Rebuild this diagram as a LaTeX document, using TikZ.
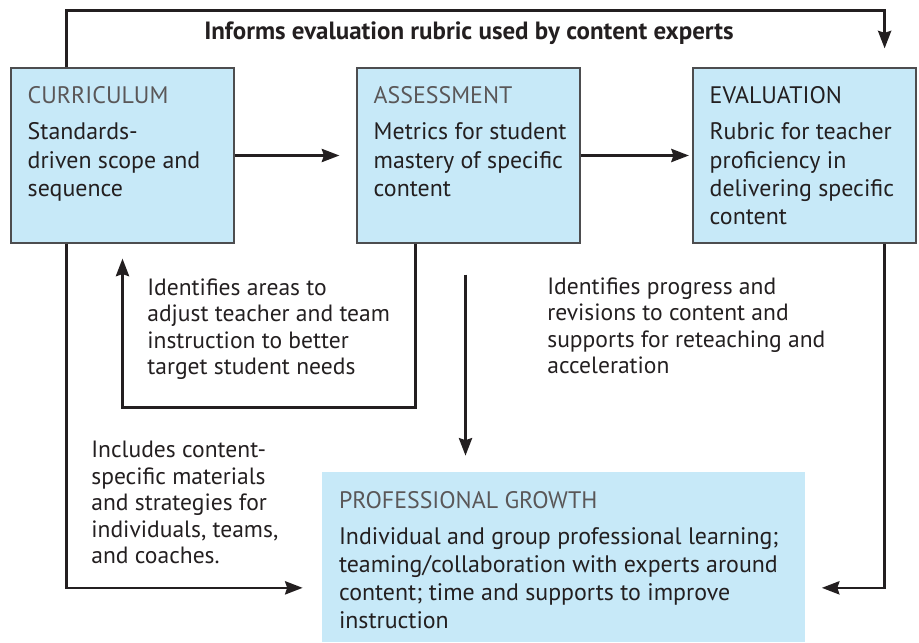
\documentclass[tikz,border=0pt]{standalone}
\usepackage{fontspec}
\setmainfont{PT Sans}
\usepackage{xcolor}
\usetikzlibrary{arrows.meta, positioning, calc}

\definecolor{boxblue}{HTML}{C7E9F8}
\definecolor{ink}{HTML}{231F20}
\definecolor{edge}{HTML}{4D4D4F}

\newcommand{\boxhead}[1]{{\color{ink!75}#1}}

\begin{document}
\begin{tikzpicture}[x=1cm, y=1cm,
  flow/.style={-{Stealth[length=10pt, width=7.5pt, inset=1.2pt]}, line width=1.5pt, draw=ink},
  txt/.style={anchor=north west, inner sep=0pt, align=left, text=ink, font=\fontsize{13.6}{16.1}\selectfont},
  lbl/.style={anchor=north west, inner sep=0pt, align=left, text=ink, font=\fontsize{13.4}{15.1}\selectfont}]

\useasboundingbox (0,0) rectangle (18.38,12.84);

% Uniform box size
\def\boxwidth{4.46cm}
\def\boxheight{3.5cm}

\node[draw=edge, line width=0.7pt, fill=boxblue, minimum width=\boxwidth, minimum height=\boxheight]
(cur) at (2.45,9.73) {};
\node[draw=edge, line width=0.7pt, fill=boxblue, minimum width=\boxwidth, minimum height=\boxheight]
(ass) at (9.37,9.73) {};
\node[draw=edge, line width=0.7pt, fill=boxblue, minimum width=\boxwidth, minimum height=\boxheight]
(eva) at (16.09,9.73) {};
\node[fill=boxblue, minimum width=9.66cm, minimum height=3.4cm]
(gro) at (11.27,1.70) {};

% Box texts
\node[txt] (curtxt) at ($(cur.north west)+(0.34,-0.38)$)
  {\boxhead{CURRICULUM}\\[4.4pt] Standards-\\driven scope and\\sequence};
\node[txt] (asstxt) at ($(ass.north west)+(0.34,-0.38)$)
  {\boxhead{ASSESSMENT}\\[4.4pt] Metrics for student\\mastery of specific\\content};
\node[txt] (evatxt) at ($(eva.north west)+(0.34,-0.38)$)
  {EVALUATION\\[4.4pt] Rubric for teacher\\proficiency in\\delivering specific\\content};
\node[txt] (grotxt) at ($(gro.north west)+(0.34,-0.38)$)
  {\boxhead{PROFESSIONAL GROWTH}\\[4.4pt] Individual and group professional learning;\\teaming/collaboration with experts around\\content; time and supports to improve\\instruction};

% Top loop
\coordinate (topl) at ($(cur.north west)+(1.12,0)$);
\coordinate (topr) at ($(eva.north east)+(-0.64,0)$);
\draw[flow, shorten >=0.38cm] (topl) -- ++(0,1.14) -| (topr);
\node[anchor=base, text=ink, font=\bfseries\fontsize{14.2}{17}\selectfont]
(ttl) at (9.38,12.04) {Informs evaluation rubric used by content experts};

% Main row
\draw[flow, shorten >=0.34cm] (cur.east) -- (ass.west);
\draw[flow, shorten >=0.07cm] (ass.east) -- (eva.west);

% Feedback to curriculum
\coordinate (loopr) at ($(ass.south west)+(1.18,0)$);
\draw[flow, shorten >=0.3cm] (loopr) -- ++(0,-3.28) -| (cur.south);
\node[lbl] (adjust) at (2.94,7.28)
  {Identifies areas to\\adjust teacher and team\\instruction to better\\target student needs};

% Into professional growth
\draw[flow, shorten <=0.62cm, shorten >=0.32cm] ($(ass.south)+(-0.06,0)$) -- ($(ass.south |- gro.north)+(-0.06,0)$);
\draw[flow, shorten >=0.38cm] (cur.south -| topl) |- ($(gro.south west)+(0,1.09)$);
\coordinate (evar) at ($(eva.south east)+(-0.64,0)$);
\draw[flow, shorten >=0.33cm] (evar) |- ($(gro.south east)+(0,1.09)$);

\node[lbl] (prog) at (10.94,7.3)
  {Identifies progress and\\revisions to content and\\supports for reteaching and\\acceleration};
\node[lbl] (mat) at (1.82,4.02)
  {Includes content-\\specific materials\\and strategies for\\individuals, teams,\\and coaches.};

\end{tikzpicture}
\end{document}
